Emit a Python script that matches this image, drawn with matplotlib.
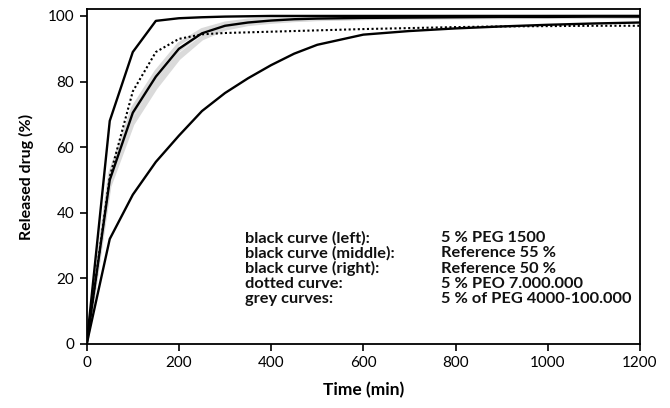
import matplotlib
matplotlib.use("Agg")
import matplotlib.pyplot as plt

plt.rcParams['font.family'] = ['Lato', 'DejaVu Sans']

# Time points (min)
time = [0, 50, 100, 150, 200, 250, 300, 350, 400, 450, 500, 600, 700, 800, 900, 1000, 1100, 1200]

# Released drug (%)
peg1500 = [0, 68, 89, 98.5, 99.3, 99.6, 99.8, 99.9, 100, 100, 100, 100, 100, 100, 100, 100, 100, 100]
ref55 = [0, 50, 70.5, 81.5, 90, 94.7, 97, 98, 98.6, 99, 99.2, 99.4, 99.5, 99.6, 99.7, 99.7, 99.8, 99.8]
ref50 = [0, 32, 45.5, 55.5, 63.5, 71, 76.5, 81, 85, 88.5, 91.2, 94.3, 95.4, 96.2, 96.8, 97.3, 97.7, 98.0]
peo7m = [0, 51, 77, 89, 93, 94.4, 94.8, 95, 95.2, 95.4, 95.6, 96, 96.3, 96.6, 96.8, 96.9, 97, 97]
grey1 = [0, 49, 68, 79, 88, 93.5, 96.3, 97.6, 98.3, 98.8, 99, 99.3, 99.4, 99.5, 99.6, 99.6, 99.7, 99.7]
grey2 = [0, 52, 72, 83, 91.5, 95.8, 97.8, 98.7, 99.1, 99.4, 99.5, 99.6, 99.7, 99.8, 99.8, 99.8, 99.9, 99.9]
grey3 = [0, 50, 70, 80.5, 89.5, 95, 97.4, 98.4, 98.9, 99.2, 99.4, 99.5, 99.6, 99.7, 99.7, 99.8, 99.8, 99.8]
grey4 = [0, 48, 67, 78, 87, 93, 96, 97.4, 98.1, 98.6, 98.9, 99.2, 99.4, 99.5, 99.5, 99.6, 99.6, 99.7]
grey_curves = [grey1, grey2, grey3, grey4]

legend_left = ["black curve (left):", "black curve (middle):", "black curve (right):",
               "dotted curve:", "grey curves:"]
legend_right = ["5 % PEG 1500", "Reference 55 %", "Reference 50 %",
                "5 % PEO 7.000.000", "5 % of PEG 4000-100.000"]

fig = plt.figure(figsize=(6.7, 4.08), dpi=100)
ax = fig.add_axes([0.1294, 0.157, 0.8257, 0.82])

for g in grey_curves:
    ax.plot(time, g, color='#dadada', lw=2.4, solid_joinstyle='round', zorder=2)

ax.plot(time, peo7m, color='black', lw=1.5, linestyle=(0, (1, 1.2)), zorder=3)
ax.plot(time, ref50, color='black', lw=1.7, zorder=4)
ax.plot(time, ref55, color='black', lw=1.7, zorder=4)
ax.plot(time, peg1500, color='black', lw=1.7, zorder=4)

ax.set_xlim(0, 1200)
ax.set_ylim(0, 102)
ax.set_xticks([0, 200, 400, 600, 800, 1000, 1200])
ax.set_yticks([0, 20, 40, 60, 80, 100])
ax.tick_params(axis='both', direction='out', length=5, width=1.2, labelsize=11, colors='black')
ax.tick_params(axis='x', pad=4)
ax.tick_params(axis='y', pad=4)
for s in ax.spines.values():
    s.set_linewidth(1.3)
    s.set_color('black')

ax.set_xlabel("Time (min)", fontsize=12.5, fontweight='bold', labelpad=8)
ax.set_ylabel("Released drug (%)", fontsize=11.5, fontweight='bold', labelpad=10)

ys = [32.2, 27.6, 23.0, 18.4, 13.7]
for lbl, val, y in zip(legend_left, legend_right, ys):
    ax.text(343, y, lbl, fontsize=11.8, fontweight='bold', va='center', ha='left', color='#111111')
    ax.text(768, y, val, fontsize=11.8, fontweight='bold', va='center', ha='left', color='#111111')

fig.savefig("out.png", dpi=100)
